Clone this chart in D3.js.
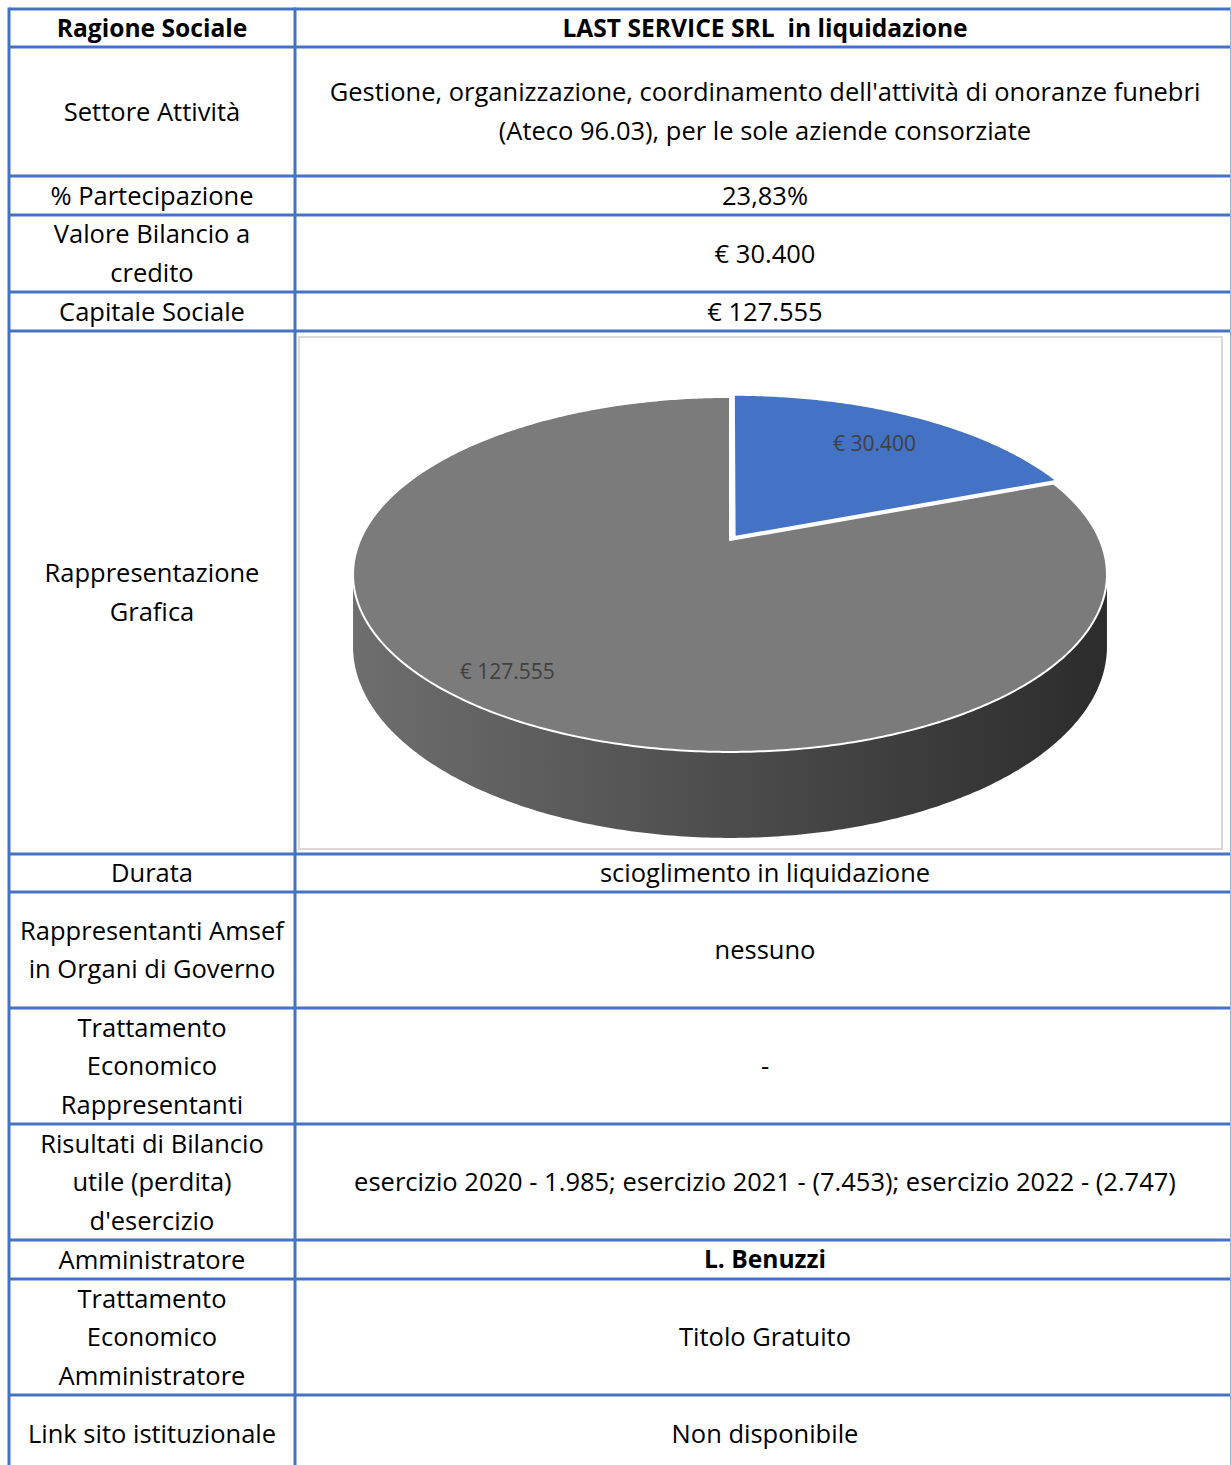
<!DOCTYPE html>
<html>
<head>
<meta charset="utf-8">
<script src="https://cdn.jsdelivr.net/npm/d3@7"></script>
<style>
  body { margin: 0; background: #fff; }
  svg text { font-family: "Open Sans", Lato, sans-serif; white-space: pre; }
</style>
</head>
<body>
<div id="chart"></div>
<script>
// table content
var rowLabels = [
    ["Ragione Sociale"],
    ["Settore Attività"],
    ["% Partecipazione"],
    ["Valore Bilancio a", "credito"],
    ["Capitale Sociale"],
    ["Rappresentazione", "Grafica"],
    ["Durata"],
    ["Rappresentanti Amsef", "in Organi di Governo"],
    ["Trattamento", "Economico", "Rappresentanti"],
    ["Risultati di Bilancio", "utile (perdita)", "d'esercizio"],
    ["Amministratore"],
    ["Trattamento", "Economico", "Amministratore"],
    ["Link sito istituzionale"]
];
var rowValues = [
    ["LAST SERVICE SRL  in liquidazione"],
    ["Gestione, organizzazione, coordinamento dell'attività di onoranze funebri", "(Ateco 96.03), per le sole aziende consorziate"],
    ["23,83%"],
    ["€ 30.400"],
    ["€ 127.555"],
    null,
    ["scioglimento in liquidazione"],
    ["nessuno"],
    ["-"],
    ["esercizio 2020 - 1.985; esercizio 2021 - (7.453); esercizio 2022 - (2.747)"],
    ["L. Benuzzi"],
    ["Titolo Gratuito"],
    ["Non disponibile"]
];
var boldRows = [0, 10];

// pie content
var pieNames  = ["Valore Bilancio a credito", "Capitale Sociale"];
var pieValues = [30400, 127555];
var pieLabels = ["€ 30.400", "€ 127.555"];

// layout
var W = 1231, H = 1465;
var rowHeights = [38, 129, 39, 77, 39, 523, 38, 116, 116, 116, 39, 116, 78];
var tableLeft = 9, tableTop = 9, colSplit = 295, tableRight = 1231;
var lineH = 38.5;
var fontSize = 25.5, boldSize = 24.6;
var blue = "#4472C4";

var svg = d3.select("#chart").append("svg")
    .attr("width", W).attr("height", H);

var rowTops = [];
var acc = tableTop;
rowHeights.forEach(function(h){ rowTops.push(acc); acc += h; });

var leftX = (tableLeft + colSplit) / 2;
var rightX = (colSplit + tableRight) / 2 + 2;

// text in cells
rowLabels.forEach(function(lines, i){
    var cy = rowTops[i] + rowHeights[i] / 2;
    var bold = boldRows.indexOf(i) >= 0;
    var t0 = cy - (lines.length - 1) * lineH / 2;
    svg.append("g").selectAll("text").data(lines).enter().append("text")
        .attr("x", leftX)
        .attr("y", function(d, j){ return t0 + j * lineH; })
        .attr("dy", "0.36em")
        .attr("text-anchor", "middle")
        .attr("font-size", i === 0 ? boldSize : fontSize)
        .attr("font-weight", i === 0 ? "bold" : "normal")
        .attr("fill", "#000")
        .text(function(d){ return d; });

    var vals = rowValues[i];
    if (!vals) return;
    var v0 = cy - (vals.length - 1) * lineH / 2;
    svg.append("g").selectAll("text").data(vals).enter().append("text")
        .attr("x", rightX)
        .attr("y", function(d, j){ return v0 + j * lineH; })
        .attr("dy", "0.36em")
        .attr("text-anchor", "middle")
        .attr("font-size", bold ? boldSize : fontSize)
        .attr("font-weight", bold ? "bold" : "normal")
        .attr("fill", "#000")
        .text(function(d){ return d; });
});

// --- 3D pie in the graphic row
var chartRow = 5;
var frame = { x: 299, y: rowTops[chartRow] + 6, w: 923, h: rowHeights[chartRow] - 11 };
svg.append("rect")
    .attr("x", frame.x).attr("y", frame.y)
    .attr("width", frame.w).attr("height", frame.h)
    .attr("fill", "#fff").attr("stroke", "#d9d9d9").attr("stroke-width", 2);

// perspective projection of the unit disk (u right, v toward viewer)
var pc = { x: 730, y: 540, A: 369.8, B: 170.8, k: 0.194, depth: 69.3 };
function proj(u, v, h) {
    var den = 1 - pc.k * v;
    return [pc.x + pc.A * u / den, pc.y + (pc.B * v + (h || 0) * pc.depth) / den];
}
function rim(a0, a1, h, off) {
    var pts = [], n = Math.max(8, Math.ceil((a1 - a0) / 0.01));
    for (var i = 0; i <= n; i++) {
        var a = a0 + (a1 - a0) * i / n;
        pts.push(proj(Math.sin(a) + off[0], -Math.cos(a) + off[1], h));
    }
    return pts;
}

var defs = svg.append("defs");
var grad = defs.append("linearGradient").attr("id", "sideGrad")
    .attr("gradientUnits", "userSpaceOnUse")
    .attr("x1", pc.x - 377).attr("x2", pc.x + 377).attr("y1", 0).attr("y2", 0);
grad.append("stop").attr("offset", 0).attr("stop-color", "#6e6e6e");
grad.append("stop").attr("offset", 0.5).attr("stop-color", "#4c4c4c");
grad.append("stop").attr("offset", 1).attr("stop-color", "#2c2c2c");

var line = d3.line();
var tFront0 = Math.PI / 2 + Math.asin(pc.k);   // silhouette angles
var tFront1 = 3 * Math.PI / 2 - Math.asin(pc.k);
var topFront = rim(tFront0, tFront1, 0, [0, 0]);
var botFront = rim(tFront0, tFront1, 1, [0, 0]).reverse();
var g = svg.append("g");
g.append("path")
    .attr("d", line(topFront.concat(botFront)) + "Z")
    .attr("fill", "url(#sideGrad)");

var arcs = d3.pie().sort(null).value(function(d){ return d; })(pieValues);
var colors = d3.scaleOrdinal().domain(pieNames).range([blue, "#7b7b7b"]);
var explode = [0.022, 0];
var labelR = [0.75, 0.85];
var labelShift = [0, 0.06];

arcs.forEach(function(a, i){
    var mid = (a.startAngle + a.endAngle) / 2;
    var off = [explode[i] * Math.sin(mid), -explode[i] * Math.cos(mid)];
    var pts = [proj(off[0], off[1], 0)].concat(rim(a.startAngle, a.endAngle, 0, off));
    g.append("path")
        .attr("d", line(pts) + "Z")
        .attr("fill", colors(pieNames[i]))
        .attr("stroke", "#fff").attr("stroke-width", 2)
        .attr("stroke-linejoin", "round");
});

arcs.forEach(function(a, i){
    var mid = (a.startAngle + a.endAngle) / 2 + labelShift[i];
    var off = [explode[i] * Math.sin(mid), -explode[i] * Math.cos(mid)];
    var p = proj(labelR[i] * Math.sin(mid) + off[0], -labelR[i] * Math.cos(mid) + off[1], 0);
    g.append("text")
        .attr("x", p[0]).attr("y", p[1])
        .attr("dy", "0.35em")
        .attr("text-anchor", "middle")
        .attr("font-size", 21)
        .attr("fill", "#404040")
        .text(pieLabels[i]);
});

// --- grid lines
var grid = svg.append("g").attr("stroke", blue).attr("stroke-width", 3);
rowTops.concat([acc]).forEach(function(y){
    grid.append("line").attr("x1", tableLeft).attr("x2", tableRight).attr("y1", y).attr("y2", y);
});
grid.append("line").attr("x1", tableLeft).attr("x2", tableLeft).attr("y1", tableTop - 1.5).attr("y2", H);
grid.append("line").attr("x1", colSplit).attr("x2", colSplit).attr("y1", tableTop - 1.5).attr("y2", H);
grid.append("line").attr("x1", tableRight).attr("x2", tableRight).attr("y1", tableTop - 1.5).attr("y2", H)
    .attr("stroke-width", 2).attr("stroke", "#9fb4df");
</script>
</body>
</html>
